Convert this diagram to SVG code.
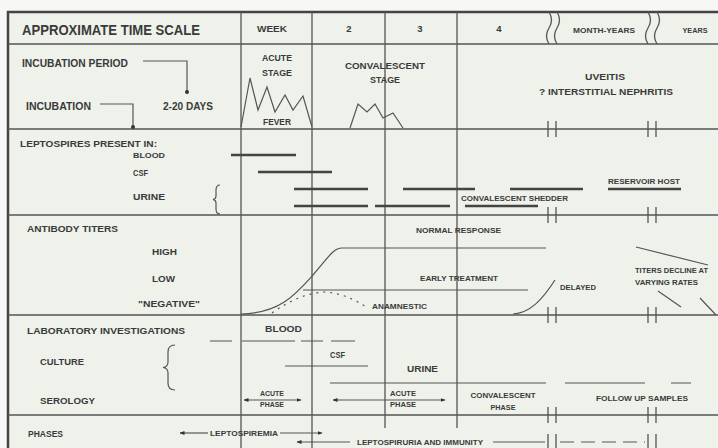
<svg xmlns="http://www.w3.org/2000/svg" width="718" height="448" viewBox="0 0 718 448">
<style>
text{font-family:"Liberation Sans",Arial,sans-serif;font-weight:bold;fill:#3a3a3a;}
.t9{font-size:10.5px;}
.t8{font-size:9.5px;}
.t7{font-size:8px;}
.t6{font-size:7px;}
.mid{text-anchor:middle;}
.grid{stroke:#555;stroke-width:1.3;fill:none;}
.frame{stroke:#444;stroke-width:2.5;fill:none;}
.data{stroke:#444;stroke-width:2.4;fill:none;}
.thin{stroke:#555;stroke-width:1.2;fill:none;}
.brk{stroke:#555;stroke-width:1.3;fill:none;}
</style>
<defs>
<marker id="ah" viewBox="0 0 10 10" refX="9" refY="5" markerWidth="5" markerHeight="5" orient="auto-start-reverse" markerUnits="userSpaceOnUse">
<path d="M0,1 L10,5 L0,9 z" fill="#333"/>
</marker>
</defs>
<rect x="0" y="0" width="718" height="448" fill="#f7f8f5"/>
<rect x="8" y="12" width="710" height="436" fill="#eef2ea"/>

<g id="connectors">
<path class="frame" d="M8,448 V12 H718"/>
<path class="grid" d="M8,44 H718 M8,129 H718 M8,215 H718 M8,315 H718 M8,415 H718"/>
<path class="grid" d="M241,12 V448 M312,12 V448 M385,12 V428 M457,12 V428"/>
<path class="brk" d="M549,12 q5,8 0,16 q-5,8 0,16 M557,12 q5,8 0,16 q-5,8 0,16 M648,12 q5,8 0,16 q-5,8 0,16 M657,12 q5,8 0,16 q-5,8 0,16"/>
<path class="brk" d="M548,121 V137 M556,121 V137 M648,121 V137 M656,121 V137
M548,207 V223 M556,207 V223 M648,207 V223 M656,207 V223
M548,307 V323 M556,307 V323 M648,307 V323 M656,307 V323
M548,407 V423 M556,407 V423 M648,407 V423 M656,407 V423
M548,434 V448 M556,434 V448 M648,434 V448 M656,434 V448"/>
<path class="thin" d="M143,61 H187 V92"/>
<circle cx="187" cy="92" r="2" fill="#333"/>
<path class="thin" d="M100,104 H133 V127"/>
<circle cx="133" cy="127" r="2" fill="#333"/>
<polyline class="thin" points="241,127 250,78 258,110 267,87 275,112 285,95 293,110 303,96 312,127"/>
<polyline class="thin" points="350,128 358,104 367,112 375,104 383,118 393,113 403,128"/>
<path class="data" d="M231,155 H296 M258,172 H332 M294,189 H368 M403,189 H475 M510,189 H583 M608,189 H681 M294,206 H368 M375,206 H450 M465,206 H538"/>
<path class="thin" d="M220,185 q-4,0 -4,5 v6 q0,3 -3,3.5 q3,0.5 3,3.5 v6 q0,5 4,5"/>
<path class="thin" d="M241,314 C280,313 295,295 313,275 C328,258 333,248 342,248 L546,248"/>
<path class="thin" d="M303,290 H528"/>
<path class="thin" d="M272,313 Q300,293 325,292 Q345,293 368,308" stroke-dasharray="2 5"/>
<path class="thin" d="M513,314 C530,313 542,300 555,280"/>
<path class="thin" d="M636,247 L708,265 M658,291 L681,307 M700,298 L716,315"/>
<path class="thin" d="M210,341 H232 M242,341 H295 M301,341 H323 M331,341 H355"/>
<path class="thin" d="M285,366 H368"/>
<path class="thin" d="M330,383 H546 M565,383 H645 M671,383 H691"/>
<path class="thin" d="M175,345 q-7,0 -7,7 v10 q0,5 -5,5.5 q5,0.5 5,5.5 v10 q0,7 7,7"/>
<path class="thin" d="M244,400 H301" marker-start="url(#ah)" marker-end="url(#ah)"/>
<path class="thin" d="M333,400 H445" marker-start="url(#ah)" marker-end="url(#ah)"/>
<path class="thin" d="M180,433 H208" marker-start="url(#ah)"/>
<path class="thin" d="M280,433 H322" marker-end="url(#ah)"/>
<path class="thin" d="M297,442 H350" marker-start="url(#ah)"/>
<path class="thin" d="M493,442 H545"/>
<path class="thin" d="M560,442 H645" stroke-dasharray="14 7"/>
</g>

<g id="header">
<text x="22" y="35" font-size="14" textLength="178" lengthAdjust="spacingAndGlyphs">APPROXIMATE TIME SCALE</text>
<text class="t8 mid" x="272" y="32" textLength="30" lengthAdjust="spacingAndGlyphs">WEEK</text>
<text class="t8 mid" x="349" y="32">2</text>
<text class="t8 mid" x="420" y="32">3</text>
<text class="t8 mid" x="499" y="32">4</text>
<text class="t6 mid" x="604" y="33" textLength="62" lengthAdjust="spacingAndGlyphs">MONTH-YEARS</text>
<text class="t6 mid" x="695" y="33" textLength="25" lengthAdjust="spacingAndGlyphs">YEARS</text>
</g>

<g id="incubation">
<text class="t9" x="22" y="67" textLength="106" lengthAdjust="spacingAndGlyphs">INCUBATION PERIOD</text>
<text class="t9" x="26" y="110" textLength="65" lengthAdjust="spacingAndGlyphs">INCUBATION</text>
<text class="t9" x="163" y="110" textLength="50" lengthAdjust="spacingAndGlyphs">2-20 DAYS</text>
<text class="t8 mid" x="277" y="61" textLength="30" lengthAdjust="spacingAndGlyphs">ACUTE</text>
<text class="t8 mid" x="277" y="76" textLength="30" lengthAdjust="spacingAndGlyphs">STAGE</text>
<text class="t8 mid" x="277" y="125" textLength="28" lengthAdjust="spacingAndGlyphs">FEVER</text>
<text class="t8 mid" x="385" y="69" textLength="80" lengthAdjust="spacingAndGlyphs">CONVALESCENT</text>
<text class="t8 mid" x="385" y="83" textLength="30" lengthAdjust="spacingAndGlyphs">STAGE</text>
<text class="t8 mid" x="605" y="80" textLength="40" lengthAdjust="spacingAndGlyphs">UVEITIS</text>
<text class="t8 mid" x="606" y="95" textLength="134" lengthAdjust="spacingAndGlyphs">? INTERSTITIAL NEPHRITIS</text>
</g>

<g id="leptospires">
<text class="t8" x="20" y="147" textLength="137" lengthAdjust="spacingAndGlyphs">LEPTOSPIRES PRESENT IN:</text>
<text class="t7" x="133" y="158" textLength="32" lengthAdjust="spacingAndGlyphs">BLOOD</text>
<text class="t8" x="133" y="176" textLength="15" lengthAdjust="spacingAndGlyphs">CSF</text>
<text class="t8" x="133" y="200" textLength="32" lengthAdjust="spacingAndGlyphs">URINE</text>
<text class="t7" x="461" y="201" textLength="107" lengthAdjust="spacingAndGlyphs">CONVALESCENT SHEDDER</text>
<text class="t7" x="608" y="184" textLength="72" lengthAdjust="spacingAndGlyphs">RESERVOIR HOST</text>
</g>

<g id="antibody">
<text class="t8" x="27" y="232" textLength="91" lengthAdjust="spacingAndGlyphs">ANTIBODY TITERS</text>
<text class="t8" x="152" y="255" textLength="25" lengthAdjust="spacingAndGlyphs">HIGH</text>
<text class="t8" x="152" y="282" textLength="23" lengthAdjust="spacingAndGlyphs">LOW</text>
<text class="t8" x="138" y="307" textLength="62" lengthAdjust="spacingAndGlyphs">"NEGATIVE"</text>
<text class="t7" x="416" y="233" textLength="85" lengthAdjust="spacingAndGlyphs">NORMAL RESPONSE</text>
<text class="t7" x="420" y="281" textLength="78" lengthAdjust="spacingAndGlyphs">EARLY TREATMENT</text>
<text class="t6" x="372" y="309" textLength="55" lengthAdjust="spacingAndGlyphs">ANAMNESTIC</text>
<text class="t7" x="560" y="290" textLength="36" lengthAdjust="spacingAndGlyphs">DELAYED</text>
<text class="t6" x="635" y="273" textLength="73" lengthAdjust="spacingAndGlyphs">TITERS DECLINE AT</text>
<text class="t6" x="635" y="285" textLength="63" lengthAdjust="spacingAndGlyphs">VARYING RATES</text>
</g>

<g id="laboratory">
<text class="t8" x="27" y="334" textLength="158" lengthAdjust="spacingAndGlyphs">LABORATORY INVESTIGATIONS</text>
<text class="t8" x="40" y="365" textLength="44" lengthAdjust="spacingAndGlyphs">CULTURE</text>
<text class="t8" x="40" y="404" textLength="55" lengthAdjust="spacingAndGlyphs">SEROLOGY</text>
<text class="t8" x="265" y="332" textLength="37" lengthAdjust="spacingAndGlyphs">BLOOD</text>
<text class="t8" x="330" y="358" textLength="15" lengthAdjust="spacingAndGlyphs">CSF</text>
<text class="t8" x="407" y="372" textLength="31" lengthAdjust="spacingAndGlyphs">URINE</text>
<text class="t6 mid" x="272" y="396" textLength="24" lengthAdjust="spacingAndGlyphs">ACUTE</text>
<text class="t6 mid" x="272" y="407" textLength="24" lengthAdjust="spacingAndGlyphs">PHASE</text>
<text class="t6 mid" x="403" y="396" textLength="26" lengthAdjust="spacingAndGlyphs">ACUTE</text>
<text class="t6 mid" x="403" y="407" textLength="26" lengthAdjust="spacingAndGlyphs">PHASE</text>
<text class="t6 mid" x="503" y="398" textLength="65" lengthAdjust="spacingAndGlyphs">CONVALESCENT</text>
<text class="t6 mid" x="503" y="410" textLength="25" lengthAdjust="spacingAndGlyphs">PHASE</text>
<text class="t7" x="596" y="401" textLength="92" lengthAdjust="spacingAndGlyphs">FOLLOW UP SAMPLES</text>
</g>

<g id="phases">
<text class="t8" x="28" y="437" textLength="35" lengthAdjust="spacingAndGlyphs">PHASES</text>
<text class="t6" x="210" y="436" textLength="68" lengthAdjust="spacingAndGlyphs">LEPTOSPIREMIA</text>
<text class="t6" x="357" y="445" textLength="126" lengthAdjust="spacingAndGlyphs">LEPTOSPIRURIA AND IMMUNITY</text>
</g>
</svg>
